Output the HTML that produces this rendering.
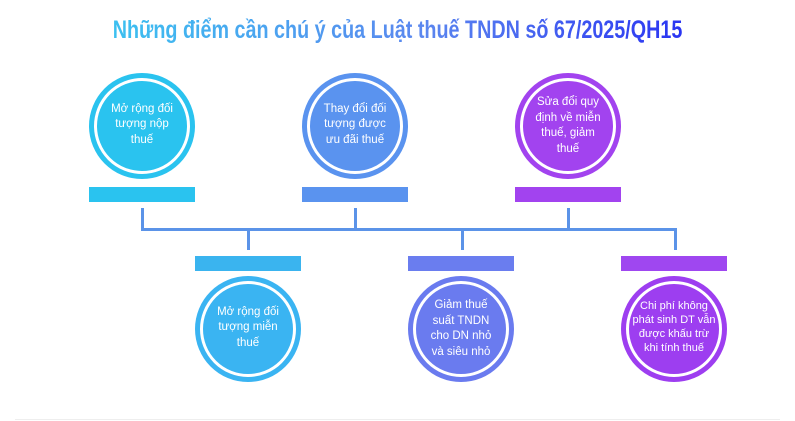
<!DOCTYPE html>
<html><head><meta charset="utf-8"><style>
body{margin:0;width:795px;height:421px;background:#fff;overflow:hidden;position:relative;font-family:"Liberation Sans",sans-serif}
.t{position:absolute;left:0;width:795px;top:16px;text-align:center;font-family:"Liberation Sans Narrow","Liberation Sans",sans-serif;font-weight:bold;font-size:25px}
.t span{display:inline-block;transform:scaleX(0.79);background:linear-gradient(90deg,#3cc0f0,#5b86ef 55%,#2a35f2);-webkit-background-clip:text;background-clip:text;color:transparent}
.c{position:absolute;width:106px;height:106px;border-radius:50%;box-sizing:border-box}
.c div{position:absolute;left:5px;top:5px;right:5px;bottom:5px;border:3px solid #fff;border-radius:50%;display:flex;align-items:center;justify-content:center;text-align:center;color:#fff;font-size:11.5px;line-height:15.5px;padding:0 0 2px;white-space:nowrap}
.b{position:absolute;width:106px;height:15px}
.l{position:absolute;background:#5b93e8}
</style></head><body>
<div class="t"><span>Những điểm cần chú ý của Luật thuế TNDN số 67/2025/QH15</span></div>

<div class="c" style="left:89px;top:73px;background:#2ac3ef"><div>Mở rộng đối<br>tượng nộp<br>thuế</div></div>
<div class="c" style="left:302px;top:73px;background:#5a93ef"><div>Thay đổi đối<br>tượng được<br>ưu đãi thuế</div></div>
<div class="c" style="left:515px;top:73px;background:#a243ef"><div style="padding-bottom:0">Sửa đổi quy<br>định về miễn<br>thuế, giảm<br>thuế</div></div>

<div class="b" style="left:89px;top:187px;background:#2ac3ef"></div>
<div class="b" style="left:302px;top:187px;background:#5a93ef"></div>
<div class="b" style="left:515px;top:187px;background:#a243ef"></div>

<div class="l" style="left:141px;top:208px;width:3px;height:22px"></div>
<div class="l" style="left:354px;top:208px;width:3px;height:22px"></div>
<div class="l" style="left:567px;top:208px;width:3px;height:22px"></div>
<div class="l" style="left:141px;top:228px;width:536px;height:3px"></div>
<div class="l" style="left:247px;top:228px;width:3px;height:22px"></div>
<div class="l" style="left:461px;top:228px;width:3px;height:22px"></div>
<div class="l" style="left:674px;top:228px;width:3px;height:22px"></div>

<div class="b" style="left:195px;top:256px;background:#3ab4ef"></div>
<div class="b" style="left:408px;top:256px;background:#6a7def"></div>
<div class="b" style="left:621px;top:256px;background:#9f47f0"></div>

<div class="c" style="left:195px;top:276px;background:#3ab4f2"><div>Mở rộng đối<br>tượng miễn<br>thuế</div></div>
<div class="c" style="left:408px;top:276px;background:#6a7bef"><div style="padding-bottom:0">Giảm thuế<br>suất TNDN<br>cho DN nhỏ<br>và siêu nhỏ</div></div>
<div class="c" style="left:621px;top:276px;background:#9d3ef0"><div style="padding-bottom:4px;font-size:11px;line-height:14px">Chi phí không<br>phát sinh DT vẫn<br>được khấu trừ<br>khi tính thuế</div></div>

<div style="position:absolute;left:15px;right:15px;top:419px;height:1px;background:#eee"></div>
</body></html>
